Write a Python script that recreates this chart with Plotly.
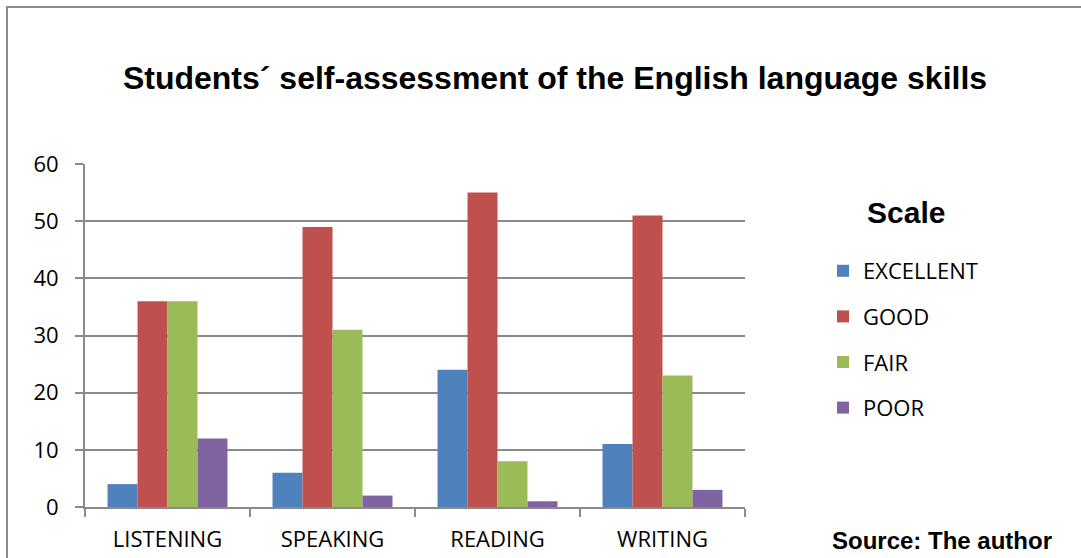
import plotly.graph_objects as go

# Survey results: number of students per rating for each skill
skills = ["LISTENING", "SPEAKING", "READING", "WRITING"]
excellent = [4, 6, 24, 11]
good = [36, 49, 55, 51]
fair = [36, 31, 8, 23]
poor = [12, 2, 1, 3]

series_names = ["EXCELLENT", "GOOD", "FAIR", "POOR"]
series_values = [excellent, good, fair, poor]
series_colors = ["#4F81BD", "#C0504D", "#9BBB59", "#8064A2"]

W, H = 1081, 558
L, R, T, B = 85, 336, 164, 51
plot_w = W - L - R
plot_h = H - T - B

fig = go.Figure()
for i, (name, vals, col) in enumerate(zip(series_names, series_values, series_colors)):
    fig.add_trace(go.Bar(
        x=skills, y=vals, name=name,
        marker=dict(color=col, line=dict(width=0)),
        legendgroup=f"g{i}",
    ))

grid_col = "#8a8a8a"
label_font = dict(family="Open Sans, Noto Sans, sans-serif", size=22, color="#000000")
legend_font = dict(family="Open Sans, Noto Sans, sans-serif", size=22, color="#000000")

fig.update_layout(
    width=W, height=H,
    margin=dict(l=L, r=R, t=T, b=B, autoexpand=False),
    paper_bgcolor="white", plot_bgcolor="white",
    barmode="group", bargap=0.273, bargroupgap=0,
    showlegend=True,
    legend=dict(
        x=(823 - L) / plot_w, y=(507 - 250) / plot_h,
        xanchor="left", yanchor="top",
        font=legend_font, tracegroupgap=14,
        itemwidth=30, bgcolor="rgba(0,0,0,0)",
    ),
    title=dict(
        text="<b>Students´ self-assessment of the English language skills</b>",
        x=555 / W, xanchor="center", y=1 - 78 / H, yanchor="middle",
        font=dict(family="Liberation Sans, Arial, sans-serif", size=32, color="#000000"),
    ),
    xaxis=dict(
        showline=True, linecolor=grid_col, linewidth=2,
        ticks="outside", ticklen=8, tickcolor=grid_col, tickwidth=2,
        tickson="boundaries", tickfont=label_font, ticklabelstandoff=12,
        showgrid=False, zeroline=False,
    ),
    yaxis=dict(
        range=[0, 60], dtick=10, tick0=0,
        showline=True, linecolor=grid_col, linewidth=2,
        ticks="outside", ticklen=8, tickcolor=grid_col, tickwidth=2,
        showgrid=True, gridcolor=grid_col, gridwidth=2,
        zeroline=False, tickfont=label_font, ticklabelstandoff=12,
    ),
    annotations=[
        dict(text="<b>Scale</b>", xref="paper", yref="paper",
             x=(906 - L) / plot_w, y=(507 - 212) / plot_h,
             xanchor="center", yanchor="middle", showarrow=False,
             font=dict(family="Liberation Sans, Arial, sans-serif", size=30, color="#000000")),
        dict(text="<b>Source: The author</b>", xref="paper", yref="paper",
             x=(942 - L) / plot_w, y=(507 - 540) / plot_h,
             xanchor="center", yanchor="middle", showarrow=False,
             font=dict(family="Liberation Sans, Arial, sans-serif", size=24, color="#000000")),
    ],
    shapes=[
        dict(type="rect", xref="paper", yref="paper",
             x0=(7 - L) / plot_w, x1=(W + 20 - L) / plot_w,
             y0=(507 - H - 20) / plot_h, y1=(507 - 7) / plot_h,
             line=dict(color="#8c8c8c", width=2), fillcolor="rgba(0,0,0,0)", layer="below"),
    ],
)

fig.write_html("out.html")
